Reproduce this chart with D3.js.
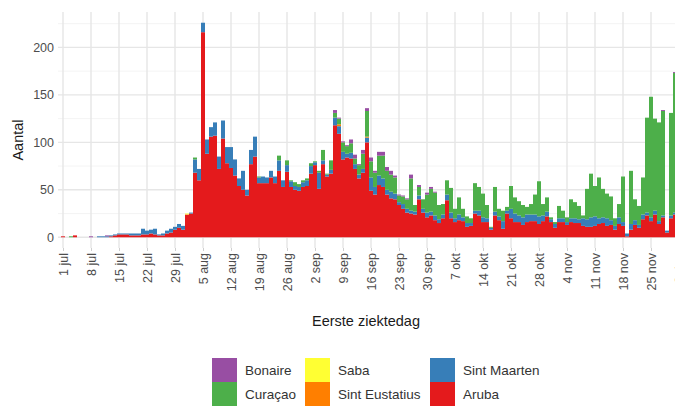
<!DOCTYPE html>
<html>
<head>
<meta charset="utf-8">
<script src="https://cdn.jsdelivr.net/npm/d3@7"></script>
<style>
  html, body { margin: 0; padding: 0; background: #fff; }
  svg { display: block; font-family: "Liberation Sans", Arial, sans-serif; }
</style>
</head>
<body>
<svg id="chart" width="675" height="407"></svg>
<script>
// ---- data (daily counts from 1 jul 2020) ----
const startDate = "2020-07-01";
const seriesNames = ["Aruba", "Sint Maarten", "Sint Eustatius", "Saba", "Curaçao", "Bonaire"];
const aruba = [1,0,0,2,0,0,0,0,0,0, 0,0,1,2,3,3,3,2,2,2, 3,3,4,3,2,2,4,5,8,10,
  8,24,25,68,60,216,88,106,107,72, 104,78,73,65,54,50,44,77,85,57, 57,57,63,57,70,53,69,53,50,49,
  53,54,67,76,51,77,64,67,118,109, 82,84,83,72,62,68,100,49,45,55, 53,45,41,40,34,30,26,25,24,40,
  26,21,23,18,15,20,39,20,16,18, 17,11,12,25,23,16,16,8,23,18, 9,25,20,16,16,13,16,17,17,14,
  17,22,16,10,16,16,13,16,15,15, 12,11,11,12,14,15,12,13,8,14, 12,1,8,13,10,19,23,17,24,14, 21,5,20,24];
const sintMaarten = [0,0,0,0,0,0,0,0,0,1, 1,1,1,1,1,1,1,2,2,2, 6,4,4,6,1,2,3,4,3,4,
  4,0,1,14,12,10,15,10,14,13, 19,17,22,17,8,20,6,15,21,6, 7,6,7,7,11,7,7,6,4,4,
  5,6,8,3,17,4,2,4,8,8, 8,4,6,5,4,4,5,14,8,10, 9,5,7,6,3,5,4,3,3,4,
  4,5,4,5,4,4,6,6,4,6, 4,4,3,3,5,5,4,2,4,4, 8,3,10,9,7,8,8,7,7,8,
  6,5,3,4,4,4,3,4,5,4, 8,8,10,10,6,6,8,5,4,7, 4,3,6,5,3,5,3,4,4,3, 2,2,3,2];
const curacao = [0,0,1,0,0,0,0,0,0,0, 0,0,0,0,0,0,0,0,0,0, 0,0,0,0,0,0,0,0,0,0,
  0,0,0,2,0,0,0,0,0,0, 0,0,0,0,0,0,0,0,0,1, 0,0,0,0,5,0,5,1,4,3,
  2,2,3,1,2,11,1,10,5,6, 10,8,10,6,10,16,27,17,15,21, 24,20,18,17,7,8,10,34,7,9,
  10,19,24,24,15,11,15,26,10,18, 9,7,5,29,25,25,14,1,26,8, 11,4,24,17,15,13,8,11,21,37,
  12,15,2,2,13,8,5,20,17,14, 3,32,46,32,43,30,26,25,8,14, 48,0,56,22,20,39,100,127,97,104, 110,0,108,147];
const bonaire = [0,0,0,0,0,0,0,1,0,0, 0,1,0,0,0,0,0,0,0,0, 0,0,0,0,0,0,0,0,0,0,
  0,0,0,0,0,0,0,0,0,0, 0,0,0,0,0,0,0,0,0,0, 0,0,0,0,0,0,0,0,0,0,
  0,0,0,0,0,0,0,0,3,1, 1,1,4,4,1,4,3,4,2,4, 4,4,4,2,1,1,1,4,0,2,
  0,2,2,1,0,0,0,0,0,0, 0,0,0,0,0,0,0,0,0,0, 0,0,0,0,0,0,0,0,0,0,
  0,0,0,0,0,0,0,0,0,0, 0,0,0,0,0,0,0,0,0,0, 0,0,0,0,0,0,0,0,0,0, 1,0,0,1];
const saba = [0,0,0,0,0,0,0,0,0,0, 0,0,0,0,0,0,0,0,0,0, 0,0,0,0,0,0,0,0,0,0,
  0,1,0,0,0,0,0,0,0,0, 0,0,0,0,0,0,0,0,0,0, 0,0,0,0,0,0,0,0,0,0,
  0,0,0,0,0,0,0,0,0,0, 0,0,0,0,0,0,0,0,0,0, 0,0,0,0,0,0,0,0,0,0,
  0,0,0,0,0,0,0,0,0,0, 0,0,0,0,0,0,0,0,0,0, 0,0,0,0,0,0,0,0,0,0,
  0,0,0,0,0,0,0,0,0,0, 0,0,0,0,0,0,0,0,0,0, 0,0,0,0,0,0,0,0,0,0, 0,0,0,0];
const sintEustatius = [0,0,0,0,0,0,0,0,0,0, 0,0,0,0,0,0,0,0,0,0, 0,0,0,0,0,0,0,0,0,0,
  0,0,0,0,0,0,0,0,0,0, 0,0,0,0,0,0,0,0,0,0, 0,0,0,0,0,0,0,0,0,0,
  0,0,0,0,0,0,0,0,0,2, 0,0,0,0,0,0,1,0,0,0, 0,0,0,0,0,0,0,0,0,0,
  0,0,0,0,0,0,0,0,0,0, 0,0,0,0,0,0,0,0,0,0, 0,0,0,0,0,0,0,0,0,0,
  0,0,0,0,0,0,0,0,0,0, 0,0,0,0,0,0,0,0,0,0, 0,0,0,0,0,0,0,0,0,0, 0,0,0,0];
const yTicks = [0, 50, 100, 150, 200];
const legendOrder = ["Bonaire", "Curaçao", "Saba", "Sint Eustatius", "Sint Maarten", "Aruba"];
const colors = {"Bonaire":"#984EA3","Curaçao":"#4DAF4A","Saba":"#FFFF33","Sint Eustatius":"#FF7F00","Sint Maarten":"#377EB8","Aruba":"#E41A1C"};

// ---- build table ----
const parse = d3.timeParse("%Y-%m-%d");
const t0 = parse(startDate);
const seriesData = {"Aruba": aruba, "Sint Maarten": sintMaarten, "Sint Eustatius": sintEustatius, "Saba": saba, "Curaçao": curacao, "Bonaire": bonaire};
const table = aruba.map((_, i) => {
  const row = {date: d3.timeDay.offset(t0, i)};
  seriesNames.forEach(s => row[s] = seriesData[s][i]);
  return row;
});

const svg = d3.select("#chart");
const panel = {left: 58, right: 700, top: 12, bottom: 248};

const x = d3.scaleTime()
  .domain([t0, d3.timeDay.offset(t0, 160)])
  .range([63, 63 + 160 * 4]);
const y = d3.scaleLinear().domain([-11.3, 237.3]).range([panel.bottom, panel.top]);

// grid
const g = svg.append("g");
const minor = [25, 75, 125, 175, 225];
g.selectAll(".minor").data(minor).join("line")
  .attr("x1", panel.left).attr("x2", 675)
  .attr("y1", d => y(d)).attr("y2", d => y(d))
  .attr("stroke", "#f0f0f0").attr("stroke-width", 0.8);
g.selectAll(".major").data(yTicks).join("line")
  .attr("x1", panel.left).attr("x2", 675)
  .attr("y1", d => y(d)).attr("y2", d => y(d))
  .attr("stroke", "#e6e6e6").attr("stroke-width", 1.4);
const weekTicks = d3.range(0, 23).map(i => d3.timeDay.offset(t0, i * 7));
g.selectAll(".vgrid").data(weekTicks).join("line")
  .attr("x1", d => x(d)).attr("x2", d => x(d))
  .attr("y1", panel.top).attr("y2", panel.bottom)
  .attr("stroke", "#e6e6e6").attr("stroke-width", 1.4);

// stacked bars
const stack = d3.stack().keys(seriesNames);
const stacked = stack(table);
const halfW = (x(d3.timeDay.offset(t0, 1)) - x(t0)) / 2;
svg.append("g").selectAll("g").data(stacked).join("g")
  .attr("fill", d => colors[d.key])
  .selectAll("rect").data(d => d.filter(v => v[1] > v[0])).join("rect")
  .attr("x", d => x(d.data.date) - halfW)
  .attr("width", halfW * 2)
  .attr("y", d => y(d[1]))
  .attr("height", d => y(d[0]) - y(d[1]));

// x axis
const fmtMonth = {6: "jul", 7: "aug", 8: "sep", 9: "okt", 10: "nov", 11: "dec"};
const xAxis = d3.axisBottom(x).tickValues(weekTicks)
  .tickSize(3).tickPadding(4)
  .tickFormat(d => d.getDate() + " " + fmtMonth[d.getMonth()]);
const xa = svg.append("g").attr("transform", `translate(0,${panel.bottom})`).call(xAxis);
xa.select(".domain").remove();
xa.selectAll(".tick line").attr("stroke", "#cfcfcf");
xa.selectAll(".tick text")
  .attr("fill", "#4d4d4d").attr("font-size", 12.5)
  .attr("transform", "rotate(-90)")
  .attr("text-anchor", "end")
  .attr("x", -5).attr("y", 0).attr("dy", "0.35em");

// y axis
const yAxis = d3.axisLeft(y).tickValues(yTicks).tickSize(0).tickPadding(4);
const ya = svg.append("g").attr("transform", `translate(${panel.left},0)`).call(yAxis);
ya.select(".domain").remove();
ya.selectAll(".tick text").attr("fill", "#4d4d4d").attr("font-size", 12.5);

// titles
svg.append("text").attr("x", 366).attr("y", 326).attr("text-anchor", "middle")
  .attr("font-size", 14.5).attr("fill", "#1a1a1a").text("Eerste ziektedag");
svg.append("text").attr("transform", "translate(23,140) rotate(-90)").attr("text-anchor", "middle")
  .attr("font-size", 14.5).attr("fill", "#1a1a1a").text("Aantal");

// legend
const colX = [212, 305, 430];
const rowY = [358, 382];
const lg = svg.append("g");
legendOrder.forEach((name, i) => {
  const c = Math.floor(i / 2), r = i % 2;
  lg.append("rect").attr("x", colX[c]).attr("y", rowY[r]).attr("width", 25).attr("height", 24)
    .attr("fill", colors[name]);
  lg.append("text").attr("x", colX[c] + 33).attr("y", rowY[r] + 12).attr("dy", "0.35em")
    .attr("font-size", 13.5).attr("fill", "#333").text(name);
});
</script>
</body>
</html>
